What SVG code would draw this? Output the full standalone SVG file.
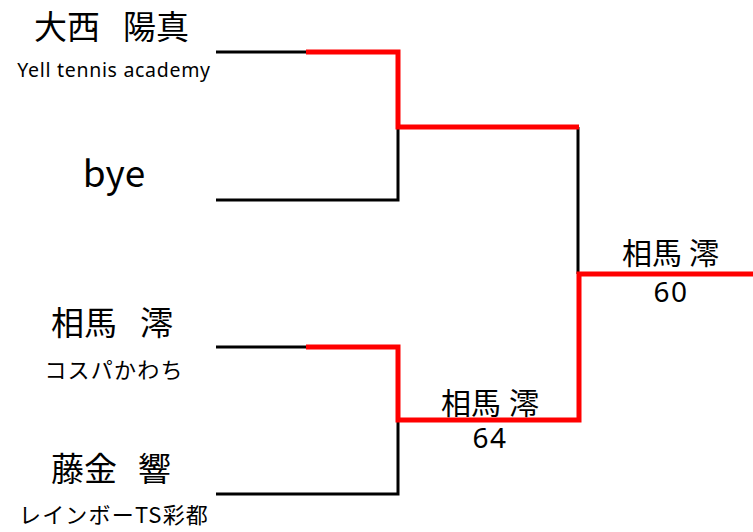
<svg xmlns="http://www.w3.org/2000/svg" width="753" height="532" viewBox="0 0 753 532">
<style>
text{font-family:"Noto Sans CJK JP","Noto Sans",sans-serif;fill:#000}
.big{font-size:33px}
.bye{font-size:37px;text-anchor:middle}
.sub{font-size:22px;letter-spacing:1.2px;text-anchor:middle}
.eng{font-size:19.5px;letter-spacing:0.7px;text-anchor:middle;font-family:"Noto Sans",sans-serif}
.res{font-size:30px}
.num{font-size:28px;letter-spacing:1.5px;text-anchor:middle;font-family:"Noto Sans",sans-serif}
.blk{stroke:#000;stroke-width:3;fill:none}
.red{stroke:#ff0000;stroke-width:5;fill:none}
</style>
<rect width="753" height="532" fill="#fff"/>
<g id="connectors">
<polyline class="blk" points="216,52 307,52"/>
<polyline class="blk" points="216,200 398,200 398,127"/>
<polyline class="blk" points="216,347 307,347"/>
<polyline class="blk" points="216,494 398,494 398,420"/>
<polyline class="blk" points="578,127 578,274"/>
<polyline class="red" points="306,52 398,52 398,127 579,127"/>
<polyline class="red" points="306,347 398,347 398,420 579,420 579,274 753,274"/>
</g>
<g id="p1"><text class="big" x="34" y="39">大西 <tspan x="123">陽真</tspan></text><text class="eng" x="114" y="77">Yell tennis academy</text></g>
<g id="p2"><text class="bye" x="114" y="187">bye</text></g>
<g id="p3"><text class="big" x="51" y="335">相馬 <tspan x="140">澪</tspan></text><text class="sub" x="114" y="378">コスパかわち</text></g>
<g id="p4"><text class="big" x="51" y="481">藤金 <tspan x="138">響</tspan></text><text class="sub" x="114" y="523">レインボーTS彩都</text></g>
<g id="w1"><text class="res" x="441" y="414">相馬 <tspan x="509">澪</tspan></text><text class="num" x="490" y="448">64</text></g>
<g id="w2"><text class="res" x="622" y="264">相馬 <tspan x="689">澪</tspan></text><text class="num" x="671" y="302">60</text></g>
</svg>
